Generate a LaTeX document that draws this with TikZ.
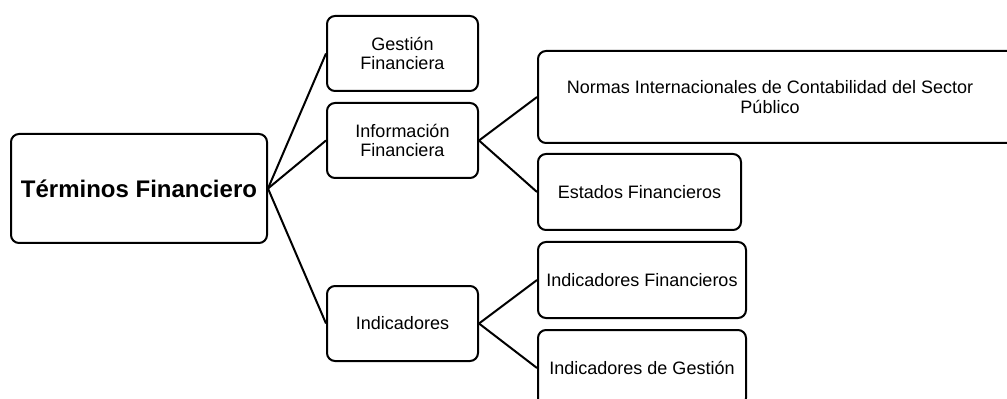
\documentclass[tikz,border=0pt]{standalone}
\usepackage{fontspec}
\setmainfont{Liberation Sans}
\begin{document}
\begin{tikzpicture}[x=0.75pt,y=-0.75pt,
    box/.style={draw, line width=1.5pt, rounded corners=6pt, align=center, inner sep=0pt,
      font=\fontsize{13.5}{14.5}\selectfont},
    link/.style={line width=1.5pt}]
      % Fix the page size
      \useasboundingbox (0,0) rectangle (1007,399);

      % Main term on the left
      \node[box, minimum width=192pt, minimum height=81.75pt,
        font=\fontsize{18}{20}\selectfont\bfseries] (term) at (139,188.5) {Términos Financiero};

      % Middle column
      \node[box, minimum width=113.25pt, minimum height=56.25pt] (gestion) at (402.5,53.5) {Gestión\\Financiera};
      \node[box, minimum width=113.25pt, minimum height=56.25pt] (info) at (402.5,140.5) {Información\\Financiera};
      \node[box, minimum width=113.25pt, minimum height=56.25pt] (indic) at (402.5,323.5) {Indicadores};

      % Right column (the wide box runs off the page)
      \node[box, minimum width=367.5pt, minimum height=69pt] (normas) at (783,97)
        {Normas Internacionales de Contabilidad del Sector\hspace*{19.5pt}\\Público\hspace*{19.5pt}};
      \node[box, minimum width=152.25pt, minimum height=57pt] (estados) at (639.5,192) {Estados Financieros};
      \node[box, minimum width=156pt, minimum height=57pt] (indfin) at (642,280) {Indicadores Financieros};
      \node[box, minimum width=156pt, minimum height=57pt] (indgest) at (642,368) {Indicadores de Gestión};

      % Connectors
      \foreach \child in {gestion, info, indic} {
          \draw[link] (term.east) -- (\child.west);
      }
      \draw[link] (info.east) -- (normas.west);
      \draw[link] (info.east) -- (estados.west);
      \draw[link] (indic.east) -- (indfin.west);
      \draw[link] (indic.east) -- (indgest.west);
    \end{tikzpicture}
\end{document}
